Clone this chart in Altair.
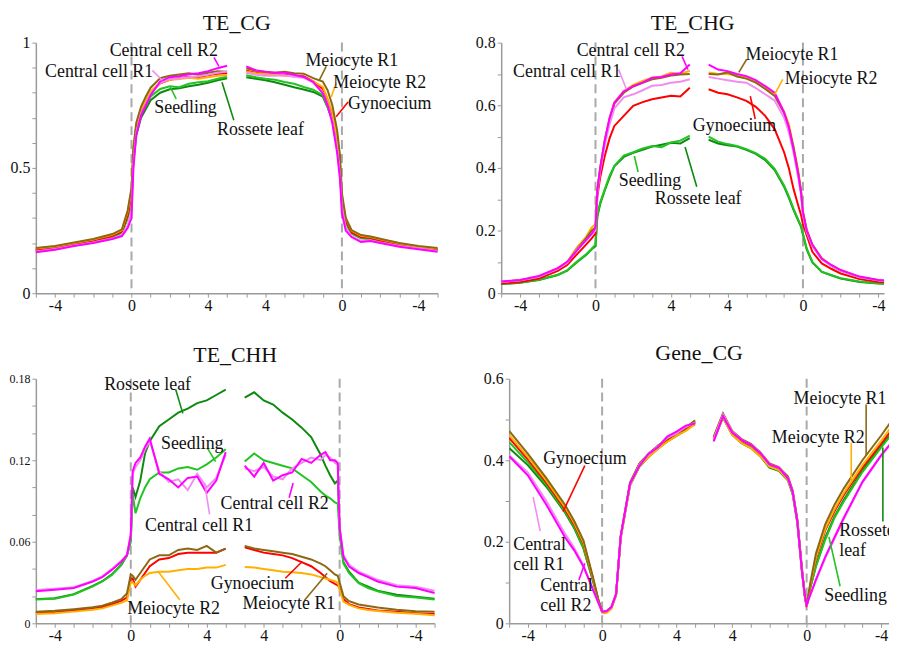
import altair as alt
import pandas as pd

SERIES = ["Rossete leaf", "Seedling", "Gynoecium", "Meiocyte R2", "Meiocyte R1",
          "Central cell R1", "Central cell R2"]
COLORS = ["#0E8A0E", "#22C322", "#FF0000", "#FFB000", "#8B6914", "#F28CF2", "#FF00FF"]
COL = dict(zip(SERIES, COLORS))

# positions: upstream -5..0, body start 0..5, body end 6..11 (label 5..0), downstream 11..16
P_LEFT = [-5, -4, -3, -2, -1.5, -1, -0.5, -0.2, 0, 0.1, 0.25, 0.5, 0.75, 1, 1.5, 2, 2.5, 3, 3.5, 4, 4.5, 5]
P_RIGHT = [6, 6.5, 7, 7.5, 8, 8.5, 9, 9.5, 10, 10.25, 10.5, 10.75, 10.9, 11, 11.2, 11.5, 12, 12.5, 13, 14, 15, 16]
P_ALL = P_LEFT + P_RIGHT

XTICKS = list(range(-5, 17))
XLAB_POS = [-4, 0, 4, 7, 11, 15]
XLAB_TXT = ["-4", "0", "4", "4", "0", "-4"]
VLINES = [0, 11]

TE_CG = {
    "Rossete leaf": [0.172, 0.182, 0.196, 0.208, 0.218, 0.226, 0.243, 0.300, 0.360,
                     0.53, 0.63, 0.70, 0.735, 0.77, 0.80, 0.814, 0.818, 0.826, 0.832, 0.840, 0.850, 0.858,
                     0.862, 0.856, 0.850, 0.842, 0.832, 0.822, 0.813, 0.803, 0.785, 0.742, 0.690, 0.585, 0.485,
                     0.355, 0.280, 0.238, 0.220, 0.215, 0.206, 0.190, 0.180, 0.172],
    "Seedling": [0.170, 0.180, 0.194, 0.206, 0.215, 0.224, 0.240, 0.300, 0.370,
                 0.55, 0.65, 0.715, 0.75, 0.785, 0.815, 0.826, 0.822, 0.836, 0.842, 0.846, 0.856, 0.864,
                 0.870, 0.862, 0.856, 0.852, 0.843, 0.836, 0.823, 0.812, 0.790, 0.745, 0.690, 0.590, 0.490,
                 0.360, 0.282, 0.238, 0.220, 0.215, 0.206, 0.192, 0.180, 0.173],
    "Gynoecium": [0.172, 0.182, 0.196, 0.210, 0.219, 0.228, 0.246, 0.310, 0.390,
                  0.56, 0.66, 0.73, 0.765, 0.80, 0.838, 0.852, 0.858, 0.864, 0.862, 0.870, 0.876, 0.878,
                  0.888, 0.880, 0.876, 0.874, 0.872, 0.866, 0.866, 0.845, 0.815, 0.770, 0.710, 0.610, 0.510,
                  0.370, 0.290, 0.243, 0.224, 0.220, 0.210, 0.194, 0.182, 0.175],
    "Meiocyte R2": [0.178, 0.186, 0.200, 0.214, 0.224, 0.233, 0.252, 0.325, 0.410,
                    0.57, 0.67, 0.735, 0.77, 0.805, 0.840, 0.852, 0.855, 0.860, 0.856, 0.862, 0.868, 0.870,
                    0.884, 0.878, 0.876, 0.872, 0.868, 0.866, 0.862, 0.845, 0.823, 0.778, 0.720, 0.620, 0.520,
                    0.380, 0.300, 0.250, 0.229, 0.224, 0.215, 0.198, 0.185, 0.178],
    "Meiocyte R1": [0.180, 0.188, 0.202, 0.216, 0.226, 0.236, 0.255, 0.330, 0.420,
                    0.58, 0.68, 0.745, 0.785, 0.82, 0.858, 0.868, 0.873, 0.878, 0.872, 0.880, 0.886, 0.884,
                    0.898, 0.888, 0.884, 0.880, 0.884, 0.878, 0.876, 0.858, 0.845, 0.810, 0.750, 0.650, 0.550,
                    0.400, 0.300, 0.252, 0.232, 0.226, 0.217, 0.200, 0.188, 0.180],
    "Central cell R1": [0.166, 0.176, 0.190, 0.202, 0.210, 0.218, 0.232, 0.270, 0.330,
                        0.52, 0.64, 0.715, 0.755, 0.795, 0.840, 0.855, 0.858, 0.862, 0.866, 0.872, 0.880, 0.885,
                        0.880, 0.872, 0.868, 0.868, 0.870, 0.864, 0.860, 0.840, 0.800, 0.755, 0.685, 0.575, 0.470,
                        0.340, 0.260, 0.228, 0.210, 0.210, 0.202, 0.188, 0.178, 0.168],
    "Central cell R2": [0.163, 0.173, 0.188, 0.200, 0.208, 0.216, 0.228, 0.260, 0.300,
                        0.50, 0.63, 0.71, 0.75, 0.79, 0.845, 0.862, 0.866, 0.874, 0.878, 0.886, 0.898, 0.908,
                        0.905, 0.890, 0.883, 0.880, 0.880, 0.872, 0.863, 0.843, 0.797, 0.751, 0.678, 0.560, 0.455,
                        0.320, 0.250, 0.224, 0.204, 0.208, 0.200, 0.185, 0.175, 0.165],
}

TE_CHG = {
    "Rossete leaf": [0.029, 0.033, 0.042, 0.058, 0.072, 0.098, 0.122, 0.140, 0.150,
                     0.245, 0.285, 0.330, 0.370, 0.405, 0.435, 0.448, 0.458, 0.468, 0.474, 0.480, 0.478, 0.495,
                     0.490, 0.478, 0.472, 0.468, 0.458, 0.445, 0.425, 0.393, 0.340, 0.305, 0.266, 0.232, 0.212,
                     0.188, 0.140, 0.098, 0.068, 0.057, 0.047, 0.036, 0.031, 0.028],
    "Seedling": [0.030, 0.034, 0.043, 0.059, 0.073, 0.100, 0.124, 0.142, 0.155,
                 0.250, 0.290, 0.333, 0.375, 0.407, 0.439, 0.450, 0.462, 0.470, 0.466, 0.481, 0.487, 0.503,
                 0.500, 0.484, 0.476, 0.470, 0.460, 0.447, 0.429, 0.397, 0.344, 0.310, 0.270, 0.235, 0.215,
                 0.190, 0.143, 0.100, 0.069, 0.058, 0.048, 0.037, 0.032, 0.029],
    "Gynoecium": [0.031, 0.036, 0.047, 0.071, 0.090, 0.123, 0.155, 0.175, 0.190,
                  0.310, 0.370, 0.440, 0.495, 0.534, 0.566, 0.598, 0.610, 0.619, 0.625, 0.630, 0.628, 0.656,
                  0.651, 0.640, 0.635, 0.625, 0.614, 0.595, 0.566, 0.524, 0.450, 0.400, 0.333, 0.280, 0.250,
                  0.220, 0.185, 0.132, 0.095, 0.078, 0.063, 0.045, 0.036, 0.032],
    "Meiocyte R2": [0.036, 0.041, 0.053, 0.080, 0.100, 0.145, 0.180, 0.210, 0.220,
                    0.330, 0.400, 0.490, 0.560, 0.610, 0.645, 0.665, 0.678, 0.688, 0.692, 0.704, 0.700, 0.710,
                    0.705, 0.700, 0.700, 0.695, 0.688, 0.675, 0.655, 0.635, 0.580, 0.540, 0.470, 0.390, 0.330,
                    0.260, 0.205, 0.155, 0.112, 0.090, 0.074, 0.052, 0.041, 0.036],
    "Meiocyte R1": [0.036, 0.041, 0.052, 0.078, 0.097, 0.140, 0.175, 0.200, 0.210,
                    0.330, 0.400, 0.490, 0.555, 0.605, 0.640, 0.660, 0.672, 0.683, 0.688, 0.695, 0.698, 0.700,
                    0.700, 0.698, 0.705, 0.692, 0.685, 0.672, 0.652, 0.630, 0.575, 0.530, 0.465, 0.385, 0.325,
                    0.255, 0.200, 0.152, 0.110, 0.088, 0.072, 0.051, 0.041, 0.036],
    "Central cell R1": [0.036, 0.041, 0.052, 0.078, 0.096, 0.138, 0.168, 0.188, 0.200,
                        0.320, 0.390, 0.475, 0.540, 0.590, 0.625, 0.635, 0.648, 0.662, 0.665, 0.672, 0.675, 0.683,
                        0.690, 0.685, 0.680, 0.675, 0.672, 0.655, 0.635, 0.615, 0.560, 0.515, 0.450, 0.370, 0.315,
                        0.250, 0.195, 0.150, 0.108, 0.087, 0.072, 0.051, 0.041, 0.036],
    "Central cell R2": [0.037, 0.042, 0.055, 0.080, 0.100, 0.135, 0.170, 0.190, 0.210,
                        0.330, 0.400, 0.490, 0.560, 0.608, 0.645, 0.661, 0.672, 0.688, 0.690, 0.698, 0.702, 0.730,
                        0.730, 0.714, 0.709, 0.700, 0.693, 0.680, 0.661, 0.640, 0.577, 0.530, 0.460, 0.380, 0.320,
                        0.260, 0.200, 0.155, 0.110, 0.090, 0.074, 0.053, 0.042, 0.037],
}

TE_CHH = {
    "Rossete leaf": [0.0178, 0.0185, 0.0215, 0.0275, 0.0310, 0.0360, 0.0430, 0.0500, 0.0620,
                     0.100, 0.093, 0.105, 0.125, 0.134, 0.145, 0.150, 0.155, 0.158, 0.162, 0.164, 0.168, 0.172,
                     0.166, 0.170, 0.164, 0.161, 0.155, 0.150, 0.144, 0.137, 0.124, 0.116, 0.109, 0.103, 0.105,
                     0.070, 0.045, 0.038, 0.030, 0.027, 0.024, 0.021, 0.0195, 0.018],
    "Seedling": [0.0176, 0.0180, 0.0212, 0.0272, 0.0308, 0.0356, 0.0429, 0.0500, 0.0600,
                 0.095, 0.081, 0.092, 0.100, 0.106, 0.111, 0.111, 0.114, 0.115, 0.113, 0.117, 0.122, 0.128,
                 0.119, 0.125, 0.120, 0.118, 0.116, 0.114, 0.109, 0.104, 0.097, 0.094, 0.092, 0.089, 0.088,
                 0.065, 0.044, 0.037, 0.0296, 0.026, 0.0236, 0.020, 0.019, 0.0176],
    "Gynoecium": [0.0075, 0.0082, 0.0094, 0.0108, 0.0120, 0.0140, 0.0165, 0.0190, 0.0330,
                  0.033, 0.027, 0.032, 0.037, 0.042, 0.047, 0.048, 0.051, 0.052, 0.052, 0.052, 0.052, 0.055,
                  0.056, 0.054, 0.052, 0.051, 0.050, 0.048, 0.045, 0.042, 0.037, 0.034, 0.031, 0.029, 0.028,
                  0.026, 0.018, 0.014, 0.0116, 0.0105, 0.0095, 0.0085, 0.0075, 0.0068],
    "Meiocyte R2": [0.0068, 0.0074, 0.0086, 0.0100, 0.0110, 0.0130, 0.0150, 0.0170, 0.0300,
                    0.030, 0.028, 0.032, 0.035, 0.037, 0.038, 0.038, 0.039, 0.040, 0.040, 0.041, 0.041, 0.043,
                    0.0415, 0.041, 0.040, 0.039, 0.038, 0.0375, 0.037, 0.036, 0.034, 0.033, 0.032, 0.031, 0.030,
                    0.025, 0.016, 0.0135, 0.011, 0.0098, 0.009, 0.0078, 0.007, 0.006],
    "Meiocyte R1": [0.0085, 0.0092, 0.0104, 0.0118, 0.0130, 0.0152, 0.0178, 0.0220, 0.0360,
                    0.035, 0.032, 0.037, 0.042, 0.047, 0.050, 0.050, 0.054, 0.055, 0.054, 0.057, 0.052, 0.055,
                    0.057, 0.055, 0.054, 0.053, 0.052, 0.051, 0.049, 0.047, 0.044, 0.042, 0.039, 0.036, 0.035,
                    0.030, 0.020, 0.0163, 0.0139, 0.0128, 0.0116, 0.010, 0.0088, 0.0085],
    "Central cell R1": [0.0245, 0.0255, 0.0265, 0.0312, 0.0345, 0.0400, 0.0460, 0.0505, 0.0650,
                        0.110, 0.115, 0.120, 0.128, 0.134, 0.112, 0.104, 0.106, 0.098, 0.110, 0.100, 0.107, 0.124,
                        0.114, 0.112, 0.115, 0.108, 0.106, 0.114, 0.118, 0.122, 0.120, 0.124, 0.122, 0.118, 0.117,
                        0.070, 0.050, 0.043, 0.038, 0.035, 0.032, 0.028, 0.027, 0.024],
    "Central cell R2": [0.0236, 0.0247, 0.0260, 0.0308, 0.0340, 0.0393, 0.0453, 0.0501, 0.0650,
                        0.112, 0.118, 0.122, 0.130, 0.136, 0.110, 0.106, 0.100, 0.107, 0.108, 0.096, 0.105, 0.126,
                        0.116, 0.108, 0.118, 0.105, 0.109, 0.111, 0.121, 0.118, 0.124, 0.126, 0.120, 0.120, 0.118,
                        0.070, 0.049, 0.0417, 0.037, 0.034, 0.0308, 0.027, 0.026, 0.0223],
}

GENE_CG = {
    "Rossete leaf": [0.430, 0.388, 0.335, 0.272, 0.233, 0.183, 0.105, 0.054, 0.028,
                     0.028, 0.029, 0.039, 0.070, 0.210, 0.338, 0.384, 0.408, 0.428, 0.446, 0.460, 0.474, 0.492,
                     0.448, 0.504, 0.462, 0.442, 0.430, 0.410, 0.382, 0.374, 0.350, 0.316, 0.246, 0.127, 0.067,
                     0.041, 0.088, 0.142, 0.210, 0.262, 0.303, 0.375, 0.435, 0.490],
    "Seedling": [0.445, 0.395, 0.340, 0.275, 0.236, 0.185, 0.107, 0.054, 0.028,
                 0.028, 0.029, 0.039, 0.070, 0.212, 0.340, 0.386, 0.410, 0.430, 0.450, 0.464, 0.478, 0.496,
                 0.452, 0.508, 0.466, 0.446, 0.434, 0.414, 0.386, 0.378, 0.352, 0.318, 0.248, 0.128, 0.068,
                 0.041, 0.088, 0.139, 0.205, 0.259, 0.299, 0.371, 0.431, 0.487],
    "Gynoecium": [0.455, 0.402, 0.345, 0.280, 0.242, 0.195, 0.110, 0.056, 0.028,
                  0.027, 0.028, 0.038, 0.070, 0.212, 0.342, 0.390, 0.412, 0.432, 0.450, 0.465, 0.478, 0.494,
                  0.455, 0.512, 0.468, 0.448, 0.436, 0.416, 0.388, 0.380, 0.356, 0.323, 0.252, 0.131, 0.069,
                  0.041, 0.093, 0.158, 0.228, 0.275, 0.315, 0.382, 0.440, 0.500],
    "Meiocyte R2": [0.462, 0.408, 0.350, 0.285, 0.246, 0.198, 0.112, 0.055, 0.026,
                    0.025, 0.026, 0.036, 0.068, 0.208, 0.338, 0.385, 0.408, 0.428, 0.445, 0.460, 0.472, 0.488,
                    0.450, 0.505, 0.462, 0.442, 0.430, 0.410, 0.384, 0.376, 0.352, 0.320, 0.250, 0.130, 0.068,
                    0.040, 0.095, 0.162, 0.232, 0.280, 0.320, 0.388, 0.447, 0.510],
    "Meiocyte R1": [0.472, 0.416, 0.356, 0.291, 0.251, 0.203, 0.115, 0.058, 0.030,
                    0.029, 0.030, 0.040, 0.072, 0.215, 0.345, 0.392, 0.416, 0.436, 0.452, 0.468, 0.480, 0.498,
                    0.458, 0.515, 0.472, 0.452, 0.440, 0.420, 0.392, 0.383, 0.360, 0.326, 0.255, 0.133, 0.070,
                    0.042, 0.100, 0.171, 0.243, 0.291, 0.331, 0.400, 0.460, 0.524],
    "Central cell R1": [0.412, 0.370, 0.300, 0.220, 0.185, 0.142, 0.085, 0.050, 0.029,
                        0.029, 0.030, 0.040, 0.072, 0.212, 0.340, 0.388, 0.414, 0.434, 0.455, 0.466, 0.482, 0.492,
                        0.452, 0.512, 0.470, 0.450, 0.438, 0.418, 0.390, 0.382, 0.356, 0.322, 0.250, 0.128, 0.070,
                        0.045, 0.070, 0.105, 0.160, 0.208, 0.256, 0.345, 0.410, 0.465],
    "Central cell R2": [0.410, 0.363, 0.291, 0.211, 0.179, 0.139, 0.083, 0.050, 0.029,
                        0.029, 0.030, 0.040, 0.072, 0.214, 0.342, 0.386, 0.416, 0.432, 0.458, 0.470, 0.485, 0.490,
                        0.446, 0.508, 0.468, 0.450, 0.438, 0.418, 0.390, 0.382, 0.355, 0.322, 0.250, 0.126, 0.070,
                        0.045, 0.070, 0.107, 0.163, 0.211, 0.259, 0.347, 0.412, 0.468],
}

# annotation texts (label, x, y) and leader lines (series, x1, y1, x2, y2), in data units
TXT_CG = [("Central cell R2", -1.14, 0.945), ("Central cell R1", -4.52, 0.862), ("Seedling", 1.19, 0.719),
          ("Rossete leaf", 4.47, 0.632), ("Meiocyte R1", 9.09, 0.905), ("Meiocyte R2", 10.55, 0.818),
          ("Gynoecium", 11.32, 0.735)]
LDR_CG = [("Central cell R2", 4.31, 0.941, 4.57, 0.905), ("Central cell R1", 1.09, 0.889, 1.61, 0.85),
          ("Seedling", 2.34, 0.775, 2.03, 0.822), ("Rossete leaf", 5.35, 0.69, 4.73, 0.842),
          ("Meiocyte R1", 10.18, 0.905, 9.82, 0.85), ("Meiocyte R2", 10.7, 0.838, 10.44, 0.783),
          ("Gynoecium", 11.32, 0.763, 10.7, 0.704)]

TXT_CHG = [("Central cell R2", -1.0, 0.756), ("Central cell R1", -4.37, 0.689), ("Meiocyte R1", 7.96, 0.746),
           ("Meiocyte R2", 10.03, 0.667), ("Gynoecium", 5.16, 0.517), ("Seedling", 1.23, 0.343),
           ("Rossete leaf", 3.14, 0.286)]
LDR_CHG = [("Central cell R2", 4.59, 0.756, 4.9, 0.714), ("Central cell R1", 1.23, 0.714, 1.64, 0.651),
           ("Meiocyte R1", 8.01, 0.746, 7.6, 0.705), ("Meiocyte R2", 9.93, 0.683, 9.5, 0.635),
           ("Gynoecium", 8.21, 0.629, 8.47, 0.556), ("Seedling", 2.26, 0.387, 2.06, 0.438),
           ("Rossete leaf", 5.37, 0.34, 4.75, 0.467)]

TXT_CHH = [("Rossete leaf", -1.40, 0.1718), ("Seedling", 1.59, 0.1285), ("Central cell R2", 4.73, 0.0838),
           ("Central cell R1", 0.75, 0.0679), ("Meiocyte R2", -0.19, 0.0065), ("Gynoecium", 4.21, 0.0252),
           ("Meiocyte R1", 5.88, 0.0106)]
LDR_CHH = [("Rossete leaf", 2.37, 0.1718, 2.74, 0.1545), ("Seedling", 4.05, 0.1285, 4.47, 0.119),
           ("Central cell R2", 8.34, 0.0924, 8.55, 0.1032), ("Central cell R1", 4.15, 0.0801, 3.89, 0.1032),
           ("Meiocyte R2", 2.58, 0.0173, 1.43, 0.0383), ("Gynoecium", 8.14, 0.0332, 9.03, 0.0455),
           ("Meiocyte R1", 9.13, 0.0166, 10.34, 0.0368)]

TXT_GENE = [("Gynoecium", -3.17, 0.392), ("Central", -4.78, 0.179), ("cell R1", -4.78, 0.131),
            ("Central", -3.33, 0.079), ("cell R2", -3.33, 0.031), ("Meiocyte R1", 10.3, 0.537),
            ("Meiocyte R2", 9.13, 0.443), ("Rossete", 12.75, 0.214), ("leaf", 12.75, 0.164),
            ("Seedling", 11.95, 0.055)]
LDR_GENE = [("Gynoecium", -0.93, 0.387, -2.1, 0.274), ("Central cell R1", -3.33, 0.226, -3.71, 0.31),
            ("Central cell R2", -1.25, 0.106, -0.93, 0.147), ("Meiocyte R1", 14.2, 0.537, 14.2, 0.412),
            ("Meiocyte R2", 13.4, 0.443, 13.4, 0.344), ("Rossete leaf", 15.1, 0.25, 15.1, 0.431),
            ("Seedling", 12.8, 0.091, 12.2, 0.212)]

FONT = "Liberation Serif, Times New Roman, Tinos, DejaVu Serif, serif"


def build_df(values):
    rows = []
    for s in SERIES:
        vals = values[s]
        assert len(vals) == len(P_ALL), (s, len(vals))
        for i, (p, v) in enumerate(zip(P_ALL, vals)):
            rows.append({"series": s, "p": p, "v": v, "half": 0 if i < len(P_LEFT) else 1})
    return pd.DataFrame(rows)


def x_label_expr():
    expr = "''"
    for pos, txt in reversed(list(zip(XLAB_POS, XLAB_TXT))):
        expr = f"datum.value == {pos} ? '{txt}' : {expr}"
    return expr


def panel(title, values, ydom, yticks, ylabels, xmax, width, height, texts, leaders,
          ylab_size=16, title_offset=4, clip_lines=False, clip_text=False):
    df = build_df(values)
    xs = alt.Scale(domain=[-5, xmax], nice=False, zero=False)
    ys = alt.Scale(domain=ydom, nice=False, zero=False)
    xticks = [t for t in XTICKS if t <= xmax + 1e-9]
    yexpr = " || ".join(f"datum.value == {v}" for v in ylabels) + " ? datum.label : ''"
    xaxis = alt.Axis(values=xticks, labelExpr=x_label_expr(), title=None, labelFlush=False,
                     labelOverlap=False, labelPadding=0)
    yaxis = alt.Axis(values=yticks, labelExpr=yexpr, format="~g", title=None, labelFlush=False,
                     labelOverlap=False, labelFontSize=ylab_size, labelPadding=2)
    X = alt.X("p:Q", scale=xs, axis=xaxis)
    Y = alt.Y("v:Q", scale=ys, axis=yaxis)

    layers = []
    layers.append(alt.Chart(pd.DataFrame({"p": VLINES})).mark_rule(
        color="#a9a9a9", strokeWidth=2, strokeDash=[9, 5]).encode(x=X))
    for s in SERIES:
        layers.append(alt.Chart(df[df.series == s]).mark_line(
            color=COL[s], strokeWidth=2, clip=clip_lines).encode(
            x=X, y=Y, detail="half:N"))
    ldf = pd.DataFrame([{"p": a, "v": b, "p2": c, "v2": d, "c": COL[s]} for s, a, b, c, d in leaders])
    layers.append(alt.Chart(ldf).mark_rule(strokeWidth=1.6, clip=clip_text).encode(
        x=X, y=Y, x2="p2:Q", y2="v2:Q", color=alt.Color("c:N", scale=None)))
    tdf = pd.DataFrame([{"p": a, "v": b, "t": t} for t, a, b in texts])
    layers.append(alt.Chart(tdf).mark_text(
        font=FONT, fontSize=18, align="left", baseline="alphabetic", color="#111111",
        clip=clip_text).encode(x=X, y=Y, text="t:N"))
    return alt.layer(*layers).properties(
        width=width, height=height,
        title=alt.TitleParams(title, font=FONT, fontSize=22, fontWeight="normal",
                              color="#111111", offset=title_offset, anchor="middle"))


p1 = panel("TE_CG", TE_CG, [0, 1], [0, 0.1, 0.2, 0.3, 0.4, 0.5, 0.6, 0.7, 0.8, 0.9, 1.0], [0, 0.5, 1],
           16, 404, 252, TXT_CG, LDR_CG, title_offset=0)
p2 = panel("TE_CHG", TE_CHG, [0, 0.8], [0, 0.1, 0.2, 0.3, 0.4, 0.5, 0.6, 0.7, 0.8], [0, 0.2, 0.4, 0.6, 0.8],
           15.3, 385, 252, TXT_CHG, LDR_CHG, title_offset=0, clip_lines=True)
p3 = panel("TE_CHH", TE_CHH, [0, 0.18], [0, 0.02, 0.04, 0.06, 0.08, 0.1, 0.12, 0.14, 0.16, 0.18],
           [0, 0.06, 0.12, 0.18], 16, 401, 246, TXT_CHH, LDR_CHH, ylab_size=12, title_offset=6)
p4 = panel("Gene_CG", GENE_CG, [0, 0.6], [0, 0.1, 0.2, 0.3, 0.4, 0.5, 0.6], [0, 0.2, 0.4, 0.6],
           15.43, 382, 246, TXT_GENE, LDR_GENE, title_offset=6, clip_lines=True, clip_text=True)

chart = alt.vconcat(
    alt.hconcat(p1, p2, spacing=34),
    alt.hconcat(p3, p4, spacing=45),
    spacing=29,
).properties(
    padding={"left": 1, "top": 2, "right": 0, "bottom": 0}
).configure_view(stroke=None).configure_axis(
    labelFont=FONT, labelFontSize=16, labelColor="#111111", domainColor="#9a9a9a",
    tickColor="#9a9a9a", domainWidth=1.5, tickWidth=1, tickSize=4, grid=False
)

chart.save("out.html", embed_options={"renderer": "svg", "actions": False})
